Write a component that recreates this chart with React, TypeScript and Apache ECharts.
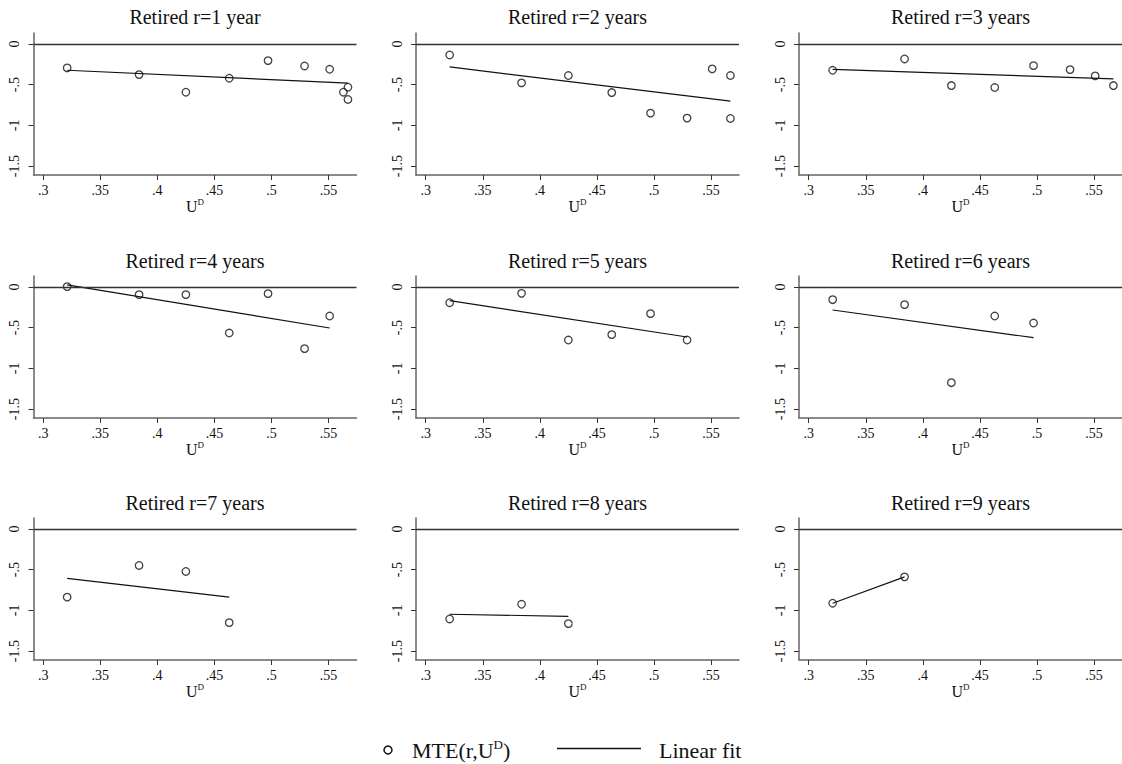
import React, { useEffect, useRef } from "react";
import * as echarts from "echarts";

const FONT = "'Liberation Serif', 'Times New Roman', serif";

const panelTitles = [
  "Retired r=1 year",
  "Retired r=2 years",
  "Retired r=3 years",
  "Retired r=4 years",
  "Retired r=5 years",
  "Retired r=6 years",
  "Retired r=7 years",
  "Retired r=8 years",
  "Retired r=9 years",
];

const ud1 = [0.321, 0.384, 0.425, 0.463, 0.497, 0.529, 0.551, 0.563, 0.567, 0.567];
const mte1 = [-0.294, -0.376, -0.593, -0.421, -0.204, -0.27, -0.311, -0.593, -0.531, -0.682];
const fitX1 = [0.321, 0.567];
const fitY1 = [-0.323, -0.482];

const ud2 = [0.321, 0.384, 0.425, 0.463, 0.497, 0.529, 0.551, 0.567, 0.567];
const mte2 = [-0.135, -0.478, -0.388, -0.597, -0.85, -0.911, -0.306, -0.388, -0.915];
const fitX2 = [0.321, 0.567];
const fitY2 = [-0.282, -0.703];

const ud3 = [0.321, 0.384, 0.425, 0.463, 0.497, 0.529, 0.551, 0.567];
const mte3 = [-0.323, -0.184, -0.511, -0.535, -0.266, -0.315, -0.392, -0.511];
const fitX3 = [0.321, 0.567];
const fitY3 = [-0.311, -0.429];

const ud4 = [0.321, 0.384, 0.425, 0.463, 0.497, 0.529, 0.551];
const mte4 = [0.004, -0.094, -0.094, -0.566, -0.082, -0.758, -0.357];
const fitX4 = [0.321, 0.551];
const fitY4 = [0.025, -0.504];

const ud5 = [0.321, 0.384, 0.425, 0.463, 0.497, 0.529];
const mte5 = [-0.193, -0.078, -0.652, -0.586, -0.328, -0.652];
const fitX5 = [0.321, 0.529];
const fitY5 = [-0.168, -0.615];

const ud6 = [0.321, 0.384, 0.425, 0.463, 0.497];
const mte6 = [-0.156, -0.217, -1.176, -0.357, -0.443];
const fitX6 = [0.321, 0.497];
const fitY6 = [-0.283, -0.623];

const ud7 = [0.321, 0.384, 0.425, 0.463];
const mte7 = [-0.838, -0.448, -0.522, -1.151];
const fitX7 = [0.321, 0.463];
const fitY7 = [-0.608, -0.838];

const ud8 = [0.321, 0.384, 0.425];
const mte8 = [-1.106, -0.925, -1.163];
const fitX8 = [0.321, 0.425];
const fitY8 = [-1.048, -1.073];

const ud9 = [0.321, 0.384];
const mte9 = [-0.912, -0.588];
const fitX9 = [0.321, 0.384];
const fitY9 = [-0.912, -0.588];

const xTicks = [0.3, 0.35, 0.4, 0.45, 0.5, 0.55];
const yTicks = [-1.5, -1, -0.5, 0];

const panels = [
  { ud: ud1, mte: mte1, fx: fitX1, fy: fitY1 },
  { ud: ud2, mte: mte2, fx: fitX2, fy: fitY2 },
  { ud: ud3, mte: mte3, fx: fitX3, fy: fitY3 },
  { ud: ud4, mte: mte4, fx: fitX4, fy: fitY4 },
  { ud: ud5, mte: mte5, fx: fitX5, fy: fitY5 },
  { ud: ud6, mte: mte6, fx: fitX6, fy: fitY6 },
  { ud: ud7, mte: mte7, fx: fitX7, fy: fitY7 },
  { ud: ud8, mte: mte8, fx: fitX8, fy: fitY8 },
  { ud: ud9, mte: mte9, fx: fitX9, fy: fitY9 },
];

const colLefts = [33.5, 416, 799];
const rowTops = [33, 276, 518];
const titleYs = [17, 261, 503];
const GW = 323;
const GH = 142;

const fmtNum = (v: number) => {
  if (v === 0) return "0";
  return String(v).replace("0.", ".");
};

export default function App() {
  const ref = useRef<HTMLDivElement>(null);

  useEffect(() => {
    if (!ref.current) return;
    const chart = echarts.init(ref.current, undefined, { renderer: "svg" });

    const grids: any[] = [];
    const xAxes: any[] = [];
    const yAxes: any[] = [];
    const series: any[] = [];
    const graphics: any[] = [];

    panels.forEach((p, i) => {
      const col = i % 3;
      const row = Math.floor(i / 3);
      grids.push({ left: colLefts[col], top: rowTops[row], width: GW, height: GH, containLabel: false });
      xAxes.push({
        type: "value",
        gridIndex: i,
        min: 0.2915,
        max: 0.5745,
        splitLine: { show: false },
        axisLine: { show: true, onZero: false, lineStyle: { color: "#666", width: 1.5 } },
        axisTick: { show: true, customValues: xTicks, length: 5, lineStyle: { color: "#333", width: 1 } },
        axisLabel: {
          customValues: xTicks,
          formatter: (v: number) => fmtNum(v),
          fontFamily: FONT,
          fontSize: 14,
          color: "#111",
          margin: 8,
        },
        name: "{u|U}{d|D}",
        nameLocation: "middle",
        nameGap: 22,
        nameTextStyle: {
          fontFamily: FONT,
          color: "#111",
          rich: {
            u: { fontFamily: FONT, fontSize: 16, color: "#111", lineHeight: 18 },
            d: { fontFamily: FONT, fontSize: 9, color: "#111", verticalAlign: "top", lineHeight: 10 },
          },
        },
      });
      yAxes.push({
        type: "value",
        gridIndex: i,
        min: -1.61,
        max: 0.135,
        splitLine: { show: false },
        axisLine: { show: true, onZero: false, lineStyle: { color: "#666", width: 1.5 } },
        axisTick: { show: true, customValues: yTicks, length: 5, lineStyle: { color: "#333", width: 1 } },
        axisLabel: {
          customValues: yTicks,
          formatter: (v: number) => fmtNum(v),
          fontFamily: FONT,
          fontSize: 14,
          color: "#111",
          rotate: 90,
          margin: 12,
        },
      });
      series.push({
        type: "scatter",
        xAxisIndex: i,
        yAxisIndex: i,
        symbol: "circle",
        symbolSize: 7.5,
        itemStyle: { color: "rgba(0,0,0,0)", borderColor: "#111", borderWidth: 1.3 },
        data: p.ud.map((x, k) => [x, p.mte[k]]),
        markLine: {
          silent: true,
          symbol: "none",
          label: { show: false },
          lineStyle: { color: "#333", width: 1.3, type: "solid" },
          data: [{ yAxis: 0 }],
        },
        z: 3,
      });
      series.push({
        type: "line",
        xAxisIndex: i,
        yAxisIndex: i,
        symbol: "none",
        lineStyle: { color: "#111", width: 1.2 },
        data: p.fx.map((x, k) => [x, p.fy[k]]),
        z: 2,
      });
      graphics.push({
        type: "text",
        x: colLefts[col] + GW / 2,
        y: titleYs[row],
        style: {
          text: panelTitles[i],
          font: `20px ${FONT}`,
          fill: "#111",
          align: "center",
          verticalAlign: "middle",
          textAlign: "center",
          textVerticalAlign: "middle",
        },
      });
    });

    // Legend
    graphics.push({
      type: "circle",
      shape: { cx: 388, cy: 750, r: 4 },
      style: { fill: "none", stroke: "#111", lineWidth: 1.5 },
    });
    graphics.push({
      type: "text",
      x: 412,
      y: 750,
      style: {
        text: "{a|MTE(r,U}{b|D}{a|)}",
        rich: {
          a: { fontFamily: FONT, fontSize: 22, fill: "#111", color: "#111", lineHeight: 25 },
          b: { fontFamily: FONT, fontSize: 13, fill: "#111", color: "#111", verticalAlign: "top", lineHeight: 13 },
        },
        align: "left",
        verticalAlign: "middle",
        textAlign: "left",
        textVerticalAlign: "middle",
      },
    });
    graphics.push({
      type: "line",
      shape: { x1: 557, y1: 748.5, x2: 641, y2: 748.5 },
      style: { stroke: "#111", lineWidth: 1.3 },
    });
    graphics.push({
      type: "text",
      x: 659,
      y: 750,
      style: {
        text: "Linear fit",
        font: `22px ${FONT}`,
        fill: "#111",
        align: "left",
        verticalAlign: "middle",
        textAlign: "left",
        textVerticalAlign: "middle",
      },
    });

    chart.setOption({
      animation: false,
      backgroundColor: "#fff",
      grid: grids,
      xAxis: xAxes,
      yAxis: yAxes,
      series,
      graphic: graphics,
    });

    return () => chart.dispose();
  }, []);

  return (
    <div
      ref={ref}
      style={{ position: "fixed", left: 0, top: 0, width: 1122, height: 764, background: "#fff" }}
    />
  );
}
